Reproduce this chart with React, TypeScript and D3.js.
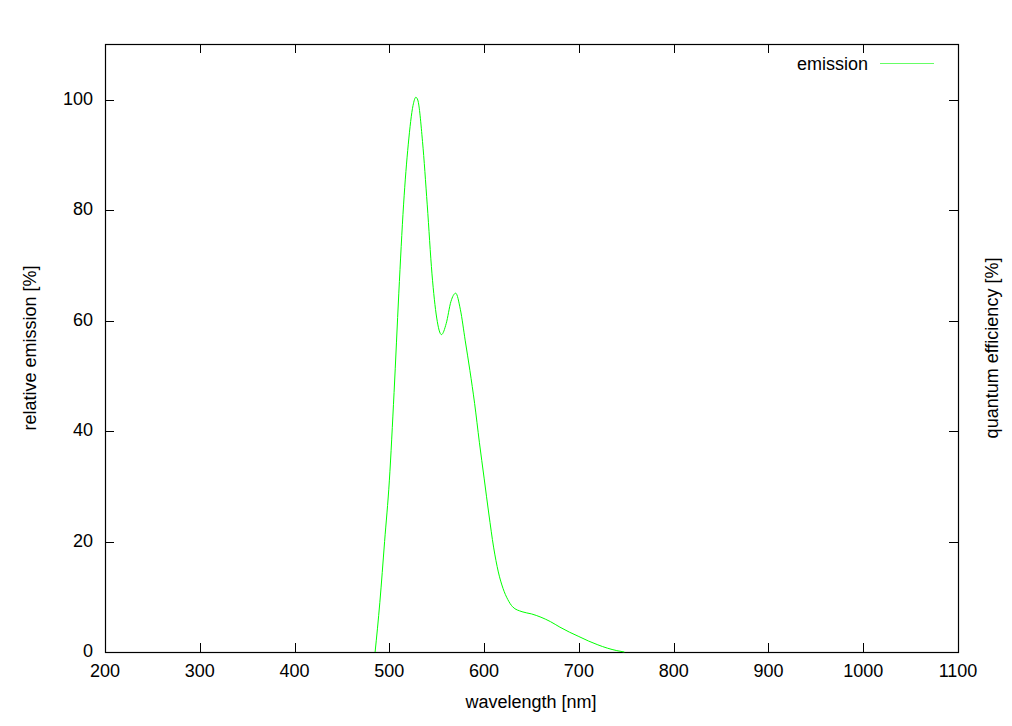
import React, { useEffect, useRef } from "react";
import * as d3 from "d3";

const wavelengths = [485, 490, 495, 500, 505, 510, 515, 520, 525, 528, 530, 535, 540, 545, 550, 555, 560, 565, 570, 575, 580, 585, 590, 595, 600, 605, 610, 615, 620, 625, 630, 640, 650, 660, 670, 680, 690, 700, 710, 720, 730, 740, 748];
const emission = [0, 9, 20, 31, 47, 65, 81, 92, 99, 100.5, 100, 92.5, 81, 68.5, 60.5, 57.5, 59.5, 63.5, 65, 62, 56.5, 51, 45, 38, 31.5, 25, 19, 14.5, 11.5, 9.5, 8.2, 7.3, 6.9, 6.3, 5.5, 4.5, 3.6, 2.8, 2.0, 1.3, 0.7, 0.25, 0];
const xTicks = [200, 300, 400, 500, 600, 700, 800, 900, 1000, 1100];
const yTicks = [0, 20, 40, 60, 80, 100];
const seriesName = "emission";
const xTitle = "wavelength [nm]";
const yTitle = "relative emission [%]";
const y2Title = "quantum efficiency [%]";

export default function App() {
  const ref = useRef<SVGSVGElement>(null);
  useEffect(() => {
    const svg = d3.select(ref.current);
    svg.selectAll("*").remove();
    const L = 105, R = 958, T = 44, B = 652;
    const x = d3.scaleLinear().domain([200, 1100]).range([L, R]);
    const y = d3.scaleLinear().domain([0, 100]).range([B, 100]);
    const font = "'Liberation Sans', Arial, sans-serif";
    const fs = 18;
    const tl = 9;
    const g = svg.append("g");
    // ticks
    xTicks.forEach((v) => {
      const px = Math.round(x(v)) + 0.5;
      g.append("line").attr("x1", px).attr("x2", px).attr("y1", B).attr("y2", B - tl).attr("stroke", "#000");
      g.append("line").attr("x1", px).attr("x2", px).attr("y1", T).attr("y2", T + tl).attr("stroke", "#000");
      g.append("text").attr("x", x(v)).attr("y", B + 25).attr("text-anchor", "middle")
        .attr("font-family", font).attr("font-size", fs).text(v);
    });
    yTicks.forEach((v) => {
      const py = Math.round(y(v)) + 0.5;
      g.append("line").attr("x1", L).attr("x2", L + tl).attr("y1", py).attr("y2", py).attr("stroke", "#000");
      g.append("line").attr("x1", R).attr("x2", R - tl).attr("y1", py).attr("y2", py).attr("stroke", "#000");
      g.append("text").attr("x", 93).attr("y", y(v) + 5).attr("text-anchor", "end")
        .attr("font-family", font).attr("font-size", fs).text(v);
    });
    // frame
    g.append("rect").attr("x", L + 0.5).attr("y", T + 0.5).attr("width", R - L).attr("height", B - T)
      .attr("fill", "none").attr("stroke", "#000").attr("stroke-width", 1.2);
    // curve
    const line = d3.line<number>().x((d, i) => x(wavelengths[i])).y((d) => y(d)).curve(d3.curveMonotoneX);
    g.append("path").attr("d", line(emission) as string).attr("fill", "none")
      .attr("stroke", "#00ff00").attr("stroke-width", 1);
    // legend
    g.append("text").attr("x", 868).attr("y", 70).attr("text-anchor", "end")
      .attr("font-family", font).attr("font-size", fs).text(seriesName);
    g.append("line").attr("x1", 880).attr("x2", 934).attr("y1", 63.5).attr("y2", 63.5)
      .attr("stroke", "#00ff00").attr("stroke-width", 1).attr("opacity", 0.6);
    // titles
    g.append("text").attr("x", 531).attr("y", 708).attr("text-anchor", "middle")
      .attr("font-family", font).attr("font-size", fs).text(xTitle);
    g.append("text").attr("transform", "translate(36,348) rotate(-90)").attr("text-anchor", "middle")
      .attr("font-family", font).attr("font-size", fs).text(yTitle);
    g.append("text").attr("transform", "translate(998,348) rotate(-90)").attr("text-anchor", "middle")
      .attr("font-family", font).attr("font-size", fs).text(y2Title);
  }, []);
  return (
    <svg ref={ref} width={1012} height={726}
      style={{ position: "absolute", left: 0, top: 0, background: "#fff" }} />
  );
}
